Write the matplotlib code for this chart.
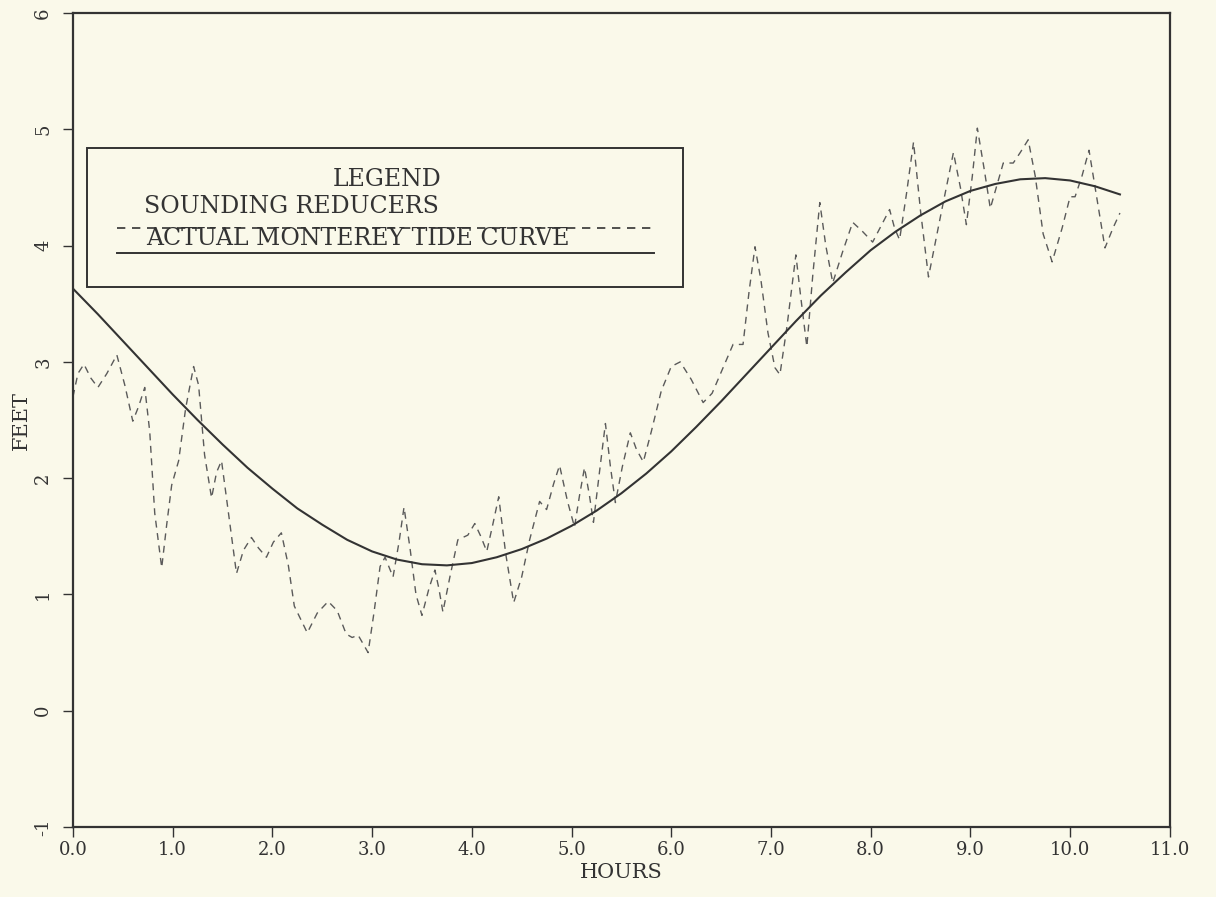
import matplotlib
matplotlib.use("Agg")
import matplotlib.pyplot as plt
from matplotlib.patches import Rectangle
from matplotlib.lines import Line2D

# Tide curve (hours, feet)
tide_hours = [0.00, 0.25, 0.50, 0.75, 1.00, 1.25, 1.50, 1.75, 2.00, 2.25,
              2.50, 2.75, 3.00, 3.25, 3.50, 3.75, 4.00, 4.25, 4.50, 4.75,
              5.00, 5.25, 5.50, 5.75, 6.00, 6.25, 6.50, 6.75, 7.00, 7.25,
              7.50, 7.75, 8.00, 8.25, 8.50, 8.75, 9.00, 9.25, 9.50, 9.75,
              10.00, 10.25, 10.50]
tide_feet = [3.63, 3.41, 3.18, 2.95, 2.72, 2.50, 2.29, 2.09, 1.91, 1.74,
             1.60, 1.47, 1.37, 1.30, 1.26, 1.25, 1.27, 1.32, 1.39, 1.48,
             1.59, 1.72, 1.87, 2.04, 2.23, 2.44, 2.66, 2.89, 3.12, 3.35,
             3.57, 3.77, 3.96, 4.12, 4.26, 4.38, 4.47, 4.53, 4.57, 4.58,
             4.56, 4.51, 4.44]

# Sounding reducers (hours, feet)
sr_hours = [0.00, 0.05, 0.11, 0.18, 0.25, 0.34, 0.44, 0.52, 0.60, 0.66,
            0.72, 0.77, 0.82, 0.89, 0.94, 0.99, 1.06, 1.13, 1.21, 1.26,
            1.32, 1.39, 1.44, 1.49, 1.56, 1.64, 1.71, 1.79, 1.86, 1.94,
            2.01, 2.09, 2.16, 2.22, 2.35, 2.45, 2.56, 2.65, 2.74, 2.80,
            2.86, 2.96, 3.02, 3.08, 3.13, 3.21, 3.27, 3.32, 3.38, 3.44,
            3.50, 3.57, 3.63, 3.67, 3.71, 3.78, 3.86, 3.96, 4.03, 4.09,
            4.15, 4.21, 4.27, 4.34, 4.42, 4.50, 4.58, 4.68, 4.75, 4.82,
            4.88, 4.96, 5.03, 5.08, 5.13, 5.18, 5.22, 5.28, 5.34, 5.39,
            5.44, 5.51, 5.59, 5.65, 5.72, 5.80, 5.90, 6.00, 6.09, 6.20,
            6.32, 6.41, 6.52, 6.62, 6.72, 6.78, 6.84, 6.90, 6.97, 7.04,
            7.09, 7.16, 7.25, 7.30, 7.36, 7.42, 7.49, 7.55, 7.62, 7.72,
            7.82, 7.92, 8.02, 8.19, 8.24, 8.29, 8.36, 8.43, 8.50, 8.58,
            8.70, 8.83, 8.90, 8.96, 9.02, 9.07, 9.14, 9.20, 9.33, 9.43,
            9.50, 9.58, 9.65, 9.73, 9.82, 9.92, 10.00, 10.05, 10.12, 10.19,
            10.27, 10.35, 10.43, 10.50]
sr_feet = [2.70, 2.90, 2.98, 2.86, 2.78, 2.90, 3.06, 2.80, 2.49, 2.62,
           2.78, 2.40, 1.70, 1.23, 1.60, 1.94, 2.15, 2.60, 2.96, 2.80,
           2.20, 1.83, 2.05, 2.15, 1.70, 1.18, 1.38, 1.49, 1.40, 1.32,
           1.45, 1.53, 1.25, 0.90, 0.67, 0.84, 0.94, 0.86, 0.66, 0.63,
           0.65, 0.50, 0.85, 1.24, 1.32, 1.15, 1.45, 1.75, 1.40, 1.00,
           0.82, 1.05, 1.21, 1.05, 0.85, 1.15, 1.47, 1.51, 1.61, 1.50,
           1.37, 1.60, 1.84, 1.35, 0.93, 1.15, 1.47, 1.80, 1.73, 1.95,
           2.11, 1.80, 1.58, 1.85, 2.09, 1.85, 1.62, 2.05, 2.47, 2.10,
           1.79, 2.10, 2.39, 2.25, 2.14, 2.40, 2.75, 2.96, 3.00, 2.85,
           2.65, 2.73, 2.95, 3.15, 3.15, 3.60, 3.99, 3.70, 3.25, 2.95,
           2.89, 3.30, 3.92, 3.55, 3.13, 3.75, 4.37, 4.00, 3.68, 3.95,
           4.20, 4.12, 4.03, 4.31, 4.15, 4.05, 4.45, 4.89, 4.30, 3.73,
           4.25, 4.80, 4.50, 4.18, 4.60, 5.01, 4.65, 4.32, 4.71, 4.71,
           4.80, 4.91, 4.60, 4.10, 3.86, 4.15, 4.42, 4.42, 4.60, 4.82,
           4.40, 3.98, 4.15, 4.28]

x_ticks = [0, 1, 2, 3, 4, 5, 6, 7, 8, 9, 10, 11]
y_ticks = [-1, 0, 1, 2, 3, 4, 5, 6]

legend_title = "LEGEND"
legend_labels = ["SOUNDING REDUCERS", "ACTUAL MONTEREY TIDE CURVE"]

bg = "#faf9ea"
ink = "#333333"
plt.rcParams["font.family"] = ["DejaVu Serif"]

fig = plt.figure(figsize=(12.16, 8.97), dpi=100, facecolor=bg)
ax = fig.add_axes([0.060, 0.078, 0.902, 0.9075], facecolor=bg)

ax.plot(sr_hours, sr_feet, color="#5a5a5a", lw=1.0, ls=(0, (5, 4)))
ax.plot(tide_hours, tide_feet, color=ink, lw=1.5)

ax.set_xlim(0, 11)
ax.set_ylim(-1, 6)
ax.set_xticks(x_ticks)
ax.set_xticklabels(["%.1f" % t for t in x_ticks])
ax.set_yticks(y_ticks)
ax.set_yticklabels([str(t) for t in y_ticks], rotation=90, va="center")
ax.tick_params(direction="out", length=7, width=1, colors=ink,
               labelsize=13, pad=3)
ax.tick_params(axis="y", pad=8)
for s in ax.spines.values():
    s.set_color(ink)
    s.set_linewidth(1.6)

ax.set_xlabel("HOURS", fontsize=15, color=ink, labelpad=3)
ax.set_ylabel("FEET", fontsize=15, color=ink, labelpad=2)

# hand-drawn legend box like the original plot
ax.add_patch(Rectangle((0.0128, 0.663), 0.543, 0.171, transform=ax.transAxes,
                       fill=False, ec=ink, lw=1.4))
ax.text(0.286, 0.788, legend_title, transform=ax.transAxes, ha="center",
        va="baseline", fontsize=17, color=ink)
ax.text(0.0647, 0.7545, legend_labels[0], transform=ax.transAxes, ha="left",
        va="baseline", fontsize=17, color=ink)
ax.add_line(Line2D([0.040, 0.530], [0.736, 0.736], transform=ax.transAxes,
                   color=ink, lw=1.2, ls=(0, (5, 4))))
ax.text(0.0665, 0.715, legend_labels[1], transform=ax.transAxes, ha="left",
        va="baseline", fontsize=17, color=ink)
ax.add_line(Line2D([0.040, 0.530], [0.705, 0.705], transform=ax.transAxes,
                   color=ink, lw=1.4))

fig.savefig("out.png", dpi=100, facecolor=bg)
